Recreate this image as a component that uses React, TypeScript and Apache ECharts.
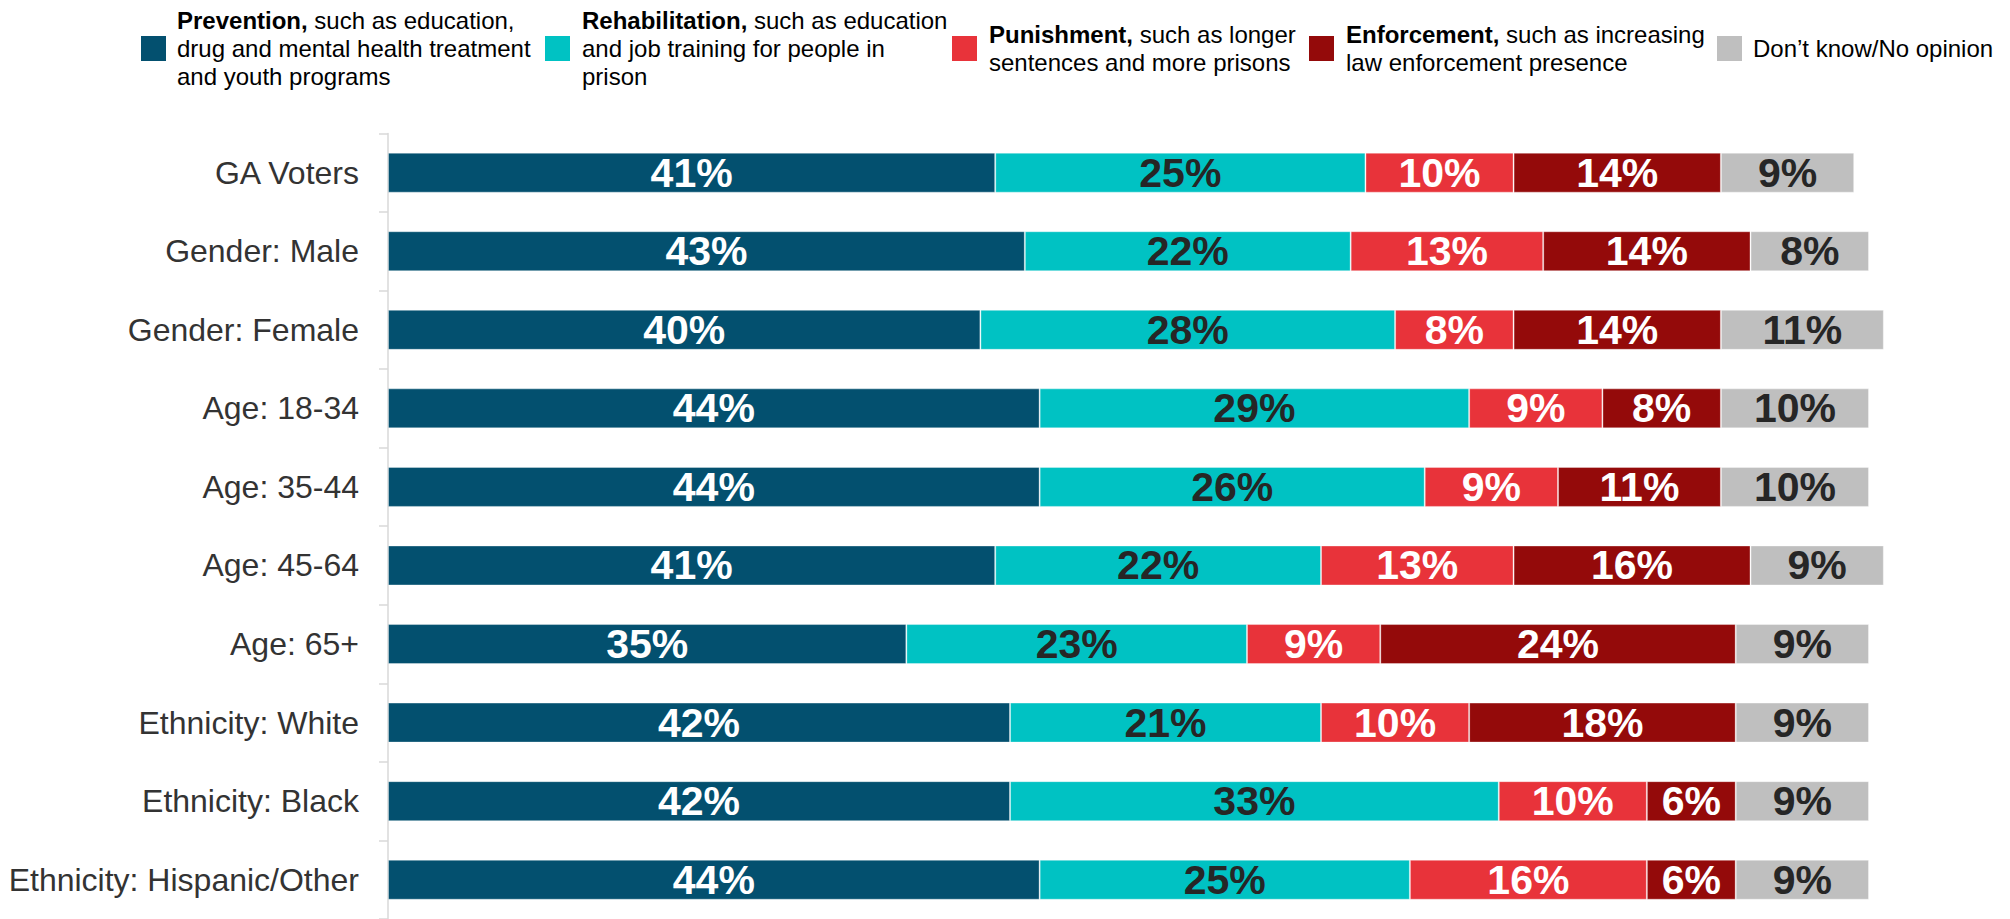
import React, { useEffect, useRef } from "react";
import * as echarts from "echarts";

const categories = [
  "GA Voters",
  "Gender: Male",
  "Gender: Female",
  "Age: 18-34",
  "Age: 35-44",
  "Age: 45-64",
  "Age: 65+",
  "Ethnicity: White",
  "Ethnicity: Black",
  "Ethnicity: Hispanic/Other",
];

const prevention = [41, 43, 40, 44, 44, 41, 35, 42, 42, 44];
const rehabilitation = [25, 22, 28, 29, 26, 22, 23, 21, 33, 25];
const punishment = [10, 13, 8, 9, 9, 13, 9, 10, 10, 16];
const enforcement = [14, 14, 14, 8, 11, 16, 24, 18, 6, 6];
const dontKnow = [9, 8, 11, 10, 10, 9, 9, 9, 9, 9];

const seriesNames = ["Prevention", "Rehabilitation", "Punishment", "Enforcement", "Don’t know/No opinion"];
const seriesData = [prevention, rehabilitation, punishment, enforcement, dontKnow];
const seriesColors = ["#03506F", "#00C2C3", "#E8333A", "#940A0A", "#BFBFBF"];
const labelColors = ["#FFFFFF", "#262626", "#FFFFFF", "#FFFFFF", "#262626"];

const legendBold = ["Prevention,", "Rehabilitation,", "Punishment,", "Enforcement,", ""];
const legendRest = [
  " such as education,\ndrug and mental health treatment\nand youth programs",
  " such as education\nand job training for people in\nprison",
  " such as longer\nsentences and more prisons",
  " such as increasing\nlaw enforcement presence",
  "Don’t know/No opinion",
];

export default function App() {
  const ref = useRef<HTMLDivElement>(null);

  useEffect(() => {
    if (!ref.current) return;
    const chart = echarts.init(ref.current, undefined, { renderer: "svg" });

    const font = "'Liberation Sans', Arial, sans-serif";
    const squareX = [141, 545, 952, 1309, 1717];
    const textX = [177, 582, 989, 1346, 1753];

    const legendGraphics: any[] = [];
    for (let i = 0; i < seriesNames.length; i++) {
      legendGraphics.push({
        type: "rect",
        shape: { x: squareX[i], y: 36, width: 25, height: 25 },
        style: { fill: seriesColors[i] },
      });
      const txt = legendBold[i] ? `{b|${legendBold[i]}}${legendRest[i]}` : legendRest[i];
      legendGraphics.push({
        type: "text",
        x: textX[i],
        y: 48.5,
        style: {
          text: txt,
          fontFamily: font,
          fontSize: 24,
          lineHeight: 28.3,
          fill: "#000000",
          verticalAlign: "middle",
          align: "left",
          rich: {
            b: { fontWeight: "bold", fontSize: 24, fontFamily: font, lineHeight: 28.3, fill: "#000000" },
          },
        },
      });
    }

    chart.setOption({
      animation: false,
      backgroundColor: "#FFFFFF",
      grid: { left: 388, top: 133.4, width: 102 * 14.81, height: 792 },
      xAxis: {
        type: "value",
        min: 0,
        max: 102,
        show: false,
      },
      yAxis: {
        type: "category",
        data: categories,
        inverse: true,
        axisLine: { show: true, lineStyle: { color: "#D9D9D9", width: 1.5 } },
        axisTick: { show: true, length: 9, lineStyle: { color: "#D9D9D9", width: 1.5 } },
        axisLabel: {
          margin: 29,
          fontFamily: font,
          fontSize: 32,
          color: "#333333",
        },
      },
      series: seriesData.map((d, i) => ({
        name: seriesNames[i],
        type: "bar",
        stack: "total",
        data: d,
        barWidth: 40,
        itemStyle: { color: seriesColors[i], borderColor: "rgba(255,255,255,0.35)", borderWidth: 1 },
        label: {
          show: true,
          position: "inside",
          formatter: "{c}%",
          fontFamily: font,
          fontSize: 41,
          fontWeight: "bold",
          color: labelColors[i],
        },
      })),
      graphic: legendGraphics,
    });

    return () => chart.dispose();
  }, []);

  return (
    <div
      ref={ref}
      style={{ position: "fixed", left: 0, top: 0, width: 2010, height: 919, background: "#fff" }}
    />
  );
}
